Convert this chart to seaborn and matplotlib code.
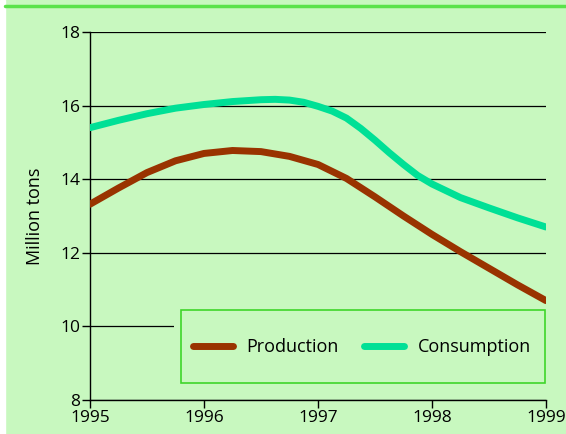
import matplotlib
matplotlib.use("Agg")
import matplotlib.pyplot as plt
import seaborn as sns
import pandas as pd
from matplotlib.patches import Rectangle
from matplotlib.lines import Line2D

prod_years = [1995.00, 1995.25, 1995.50, 1995.75, 1996.00, 1996.25, 1996.50, 1996.75,
              1997.00, 1997.25, 1997.50, 1997.75, 1998.00, 1998.25, 1998.50, 1998.75, 1999.00]
production = [13.32, 13.76, 14.18, 14.50, 14.70, 14.78, 14.75, 14.62,
              14.40, 14.02, 13.52, 13.00, 12.50, 12.03, 11.58, 11.13, 10.70]
cons_years = [1995.00, 1995.25, 1995.50, 1995.75, 1996.00, 1996.25, 1996.50, 1996.625, 1996.75,
              1996.875, 1997.00, 1997.125, 1997.25, 1997.375, 1997.50, 1997.625, 1997.75,
              1997.875, 1998.00, 1998.25, 1998.50, 1998.75, 1999.00]
consumption = [15.40, 15.60, 15.78, 15.93, 16.03, 16.11, 16.16, 16.17, 16.15,
               16.09, 15.98, 15.85, 15.66, 15.38, 15.06, 14.72, 14.40,
               14.10, 13.87, 13.50, 13.22, 12.95, 12.70]
xticks = [1995, 1996, 1997, 1998, 1999]
yticks = [8, 10, 12, 14, 16, 18]

BG = "#c8f8bf"
PROD_C = "#993300"
CONS_C = "#00e096"

sns.set_theme(style="white")
plt.rcParams['font.family'] = ['Open Sans', 'DejaVu Sans']
plt.rcParams['text.color'] = 'black'
plt.rcParams['axes.labelcolor'] = 'black'

df = pd.DataFrame({"year": prod_years + cons_years,
                   "value": production + consumption,
                   "series": ["Production"] * len(prod_years) + ["Consumption"] * len(cons_years)})

fig = plt.figure(figsize=(5.66, 4.34), dpi=100)
fig.patch.set_facecolor(BG)
X0, W, Y0, H = 90, 456, 400, 368
ax = fig.add_axes([X0/566, (434-Y0)/434, W/566, H/434])
ax.set_facecolor(BG)

def ax_x(px):
    return (px - X0) / W

def ax_y(py):
    return (Y0 - py) / H

# decorations of the figure
fig.patches.append(Rectangle((0, 0), 5/566, 1, transform=fig.transFigure, color="white", zorder=0))
fig.lines.append(Line2D([5/566, 1], [1 - 6/434, 1 - 6/434], transform=fig.transFigure,
                        color="#5ae34a", lw=2.5))

sns.lineplot(data=df, x="year", y="value", hue="series",
             palette={"Production": PROD_C, "Consumption": CONS_C},
             lw=5, ax=ax, legend=False, zorder=3, solid_capstyle="round",
             solid_joinstyle="round")

ax.set_xlim(1995, 1999)
ax.set_ylim(8, 18)
ax.set_xticks(xticks)
ax.set_yticks(yticks)
ax.set_xticklabels([str(t) for t in xticks], fontsize=12.5)
ax.set_yticklabels([str(t) for t in yticks], fontsize=12.5)
ax.set_xlabel("")
ax.set_ylabel("Million tons", fontsize=13, labelpad=12, color="black")
ax.yaxis.grid(True, color="black", lw=0.9)
ax.xaxis.grid(False)
ax.set_axisbelow(True)
for s in ["top", "right"]:
    ax.spines[s].set_visible(False)
for s in ["left", "bottom"]:
    ax.spines[s].set_color("black")
    ax.spines[s].set_linewidth(1.0)
ax.tick_params(axis="both", direction="out", length=6, width=1, color="black",
               labelcolor="black", bottom=True, left=True, pad=1)

# background patch behind legend hiding gridline, and legend box
ax.add_patch(Rectangle((ax_x(174), ax_y(390)), ax_x(560) - ax_x(174), ax_y(304) - ax_y(390),
                       transform=ax.transAxes, facecolor=BG, edgecolor="none", zorder=2,
                       clip_on=False))
ax.add_patch(Rectangle((ax_x(181), ax_y(383)), ax_x(545) - ax_x(181), ax_y(310) - ax_y(383),
                       transform=ax.transAxes, facecolor=BG, edgecolor="#3ed62a", lw=1.2,
                       zorder=2.5, clip_on=False))
handles = [Line2D([], [], color=PROD_C, lw=5, solid_capstyle="round"),
           Line2D([], [], color=CONS_C, lw=5, solid_capstyle="round")]
leg = ax.legend(handles, ["Production", "Consumption"], ncol=2, loc="center",
                bbox_to_anchor=(ax_x(362), ax_y(347)), frameon=False, fontsize=13,
                handlelength=2.2, columnspacing=1.4, borderpad=0, handletextpad=0.75,
                borderaxespad=0)
for t in leg.get_texts():
    t.set_color("black")
leg.set_zorder(4)

fig.savefig("out.png", dpi=100, facecolor=BG)
